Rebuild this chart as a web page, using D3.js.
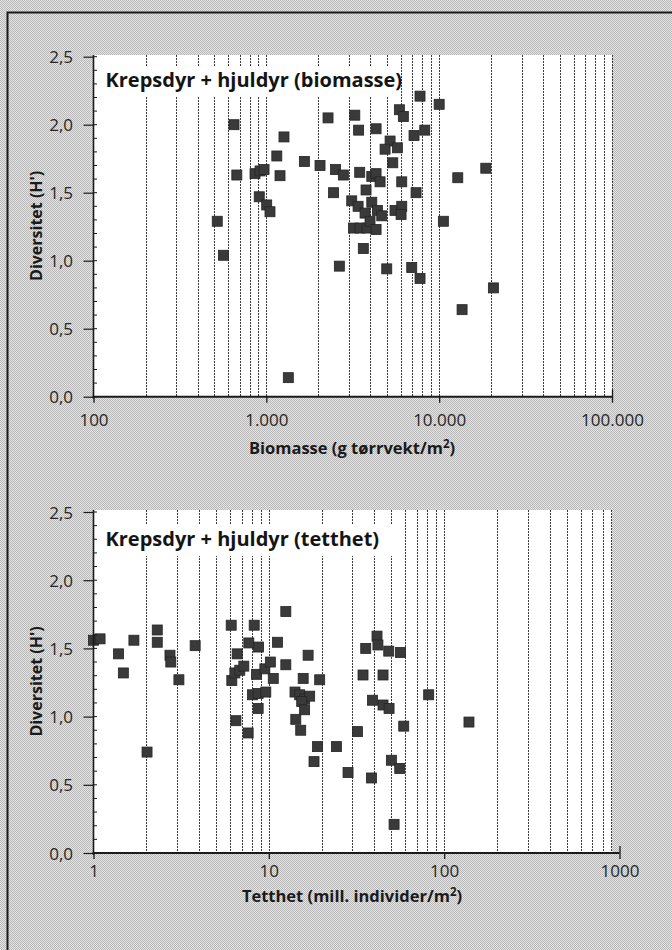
<!DOCTYPE html>
<html>
<head>
<meta charset="utf-8">
<script src="https://cdn.jsdelivr.net/npm/d3@7"></script>
<style>
  html, body { margin: 0; padding: 0; background: #cbcbcb; }
  svg { display: block; }
  text { font-family: "Open Sans", "Noto Sans", sans-serif; }
</style>
</head>
<body>
<svg id="chart" width="672" height="950"></svg>
<script>
// Diversity (Shannon H') against biomass and density of crustaceans + rotifers

// Panel 1: biomass (g dry weight / m2) and diversity
const biomasse = [
  650, 1265, 1150, 1660, 2045, 2275, 3250, 3420, 675, 860,
  920, 970, 1200, 2515, 2790, 2450, 910, 1005, 1050, 520,
  3120, 3395, 3190, 3485, 3825, 3470, 4315, 5885, 6205, 7750,
  10000, 7155, 8255, 5200, 4865, 5730, 5390, 4075, 4315, 4550,
  6075, 7350, 3775, 4075, 3725, 4390, 4655, 3980, 5555, 6075,
  6020, 4315, 10575, 12815, 18610, 3640, 2645, 4975, 6940, 7750,
  20590, 13570, 565, 1340
];
const diversitetBiomasse = [
  2.00, 1.91, 1.77, 1.73, 1.70, 2.05, 2.07, 1.96, 1.63, 1.64,
  1.66, 1.67, 1.625, 1.67, 1.63, 1.50, 1.47, 1.41, 1.36, 1.29,
  1.44, 1.40, 1.24, 1.24, 1.24, 1.65, 1.97, 2.11, 2.06, 2.21,
  2.15, 1.92, 1.96, 1.88, 1.82, 1.83, 1.72, 1.62, 1.64, 1.58,
  1.58, 1.50, 1.52, 1.43, 1.35, 1.37, 1.33, 1.29, 1.37, 1.40,
  1.34, 1.23, 1.29, 1.61, 1.68, 1.09, 0.96, 0.94, 0.95, 0.87,
  0.80, 0.64, 1.04, 0.14
];

// Panel 2: density (mill. individuals / m2) and diversity
const tetthet = [
  1.00, 1.09, 1.39, 1.48, 1.70, 2.31, 2.31, 2.73, 2.76, 3.07,
  3.80, 6.10, 6.60, 6.15, 6.40, 6.83, 7.20, 7.69, 8.25, 8.74,
  8.51, 9.49, 10.2, 10.6, 11.2, 12.5, 12.5, 16.75, 15.7, 19.5,
  8.07, 8.69, 9.61, 8.69, 6.49, 7.62, 2.02, 14.1, 15.0, 16.0,
  17.1, 15.4, 16.0, 14.25, 15.2, 18.95, 24.3, 18.1, 28.3, 32.0,
  39.0, 44.8, 48.5, 58.8, 81.6, 138.5, 50.0, 55.8, 38.5, 51.8,
  35.7, 41.4, 41.9, 48.3, 56.3, 34.45, 44.8
];
const diversitetTetthet = [
  1.56, 1.57, 1.46, 1.32, 1.56, 1.635, 1.545, 1.45, 1.40, 1.27,
  1.52, 1.67, 1.46, 1.265, 1.32, 1.34, 1.37, 1.54, 1.67, 1.51,
  1.31, 1.35, 1.40, 1.28, 1.545, 1.77, 1.38, 1.45, 1.28, 1.27,
  1.16, 1.17, 1.18, 1.06, 0.97, 0.88, 0.74, 1.18, 1.16, 1.13,
  1.15, 1.11, 1.05, 0.98, 0.90, 0.78, 0.78, 0.67, 0.59, 0.89,
  1.12, 1.085, 1.06, 0.93, 1.16, 0.96, 0.68, 0.62, 0.55, 0.21,
  1.50, 1.59, 1.525, 1.48, 1.47, 1.305, 1.305
];

// Axis ticks and labels
const yTicks = [0, 0.5, 1.0, 1.5, 2.0, 2.5];
const yTickLabels = ["0,0", "0,5", "1,0", "1,5", "2,0", "2,5"];
const yMinorTicks = d3.range(0, 2.51, 0.1);
const biomasseTicks = [100, 1000, 10000, 100000];
const biomasseTickLabels = ["100", "1.000", "10.000", "100.000"];
const tetthetTicks = [1, 10, 100, 1000];
const tetthetTickLabels = ["1", "10", "100", "1000"];

const svg = d3.select("#chart");
const defs = svg.append("defs");

// halftone-like grey screen for the page background
const pat = defs.append("pattern")
  .attr("id", "screen").attr("width", 2).attr("height", 2)
  .attr("patternUnits", "userSpaceOnUse");
pat.append("rect").attr("width", 2).attr("height", 2).attr("fill", "#e6e6e6");
pat.append("rect").attr("x", 0).attr("y", 0).attr("width", 1).attr("height", 1).attr("fill", "#b6b6b6");
pat.append("rect").attr("x", 1).attr("y", 1).attr("width", 1).attr("height", 1).attr("fill", "#b6b6b6");

svg.append("rect").attr("width", 672).attr("height", 950).attr("fill", "url(#screen)");
// frame around the figure
svg.append("path")
  .attr("d", "M7.5,960 L7.5,12.5 L680,12.5")
  .attr("fill", "none").attr("stroke", "#1a1a1a").attr("stroke-width", 2);

function panel(opts) {
  const g = svg.append("g");
  const x = d3.scaleLog().domain(opts.xDomain).range(opts.xRange);
  const y = d3.scaleLinear().domain([0, 2.5]).range(opts.yRange);
  const x0 = opts.xRange[0];
  const y0 = opts.yRange[0];
  const plotRight = opts.plotRight;
  const plotTop = opts.plotTop;

  // white plotting area
  g.append("rect")
    .attr("x", x0).attr("y", plotTop)
    .attr("width", plotRight - x0).attr("height", y0 - plotTop)
    .attr("fill", "#ffffff");

  // logarithmic grid lines (2..10 within each decade)
  const grid = [];
  const dLo = Math.round(Math.log10(opts.xDomain[0]));
  const dHi = Math.round(Math.log10(opts.xDomain[1]));
  for (let d = dLo; d < dHi; d++) {
    for (let k = 2; k <= 10; k++) {
      const v = k * Math.pow(10, d);
      if (x(v) <= plotRight + 0.5) grid.push(v);
    }
  }
  g.append("g").selectAll("line").data(grid).join("line")
    .attr("x1", d => Math.round(x(d)) + 0.5).attr("x2", d => Math.round(x(d)) + 0.5)
    .attr("y1", plotTop).attr("y2", y0)
    .attr("stroke", "#3a3a3a").attr("stroke-width", 1)
    .attr("stroke-dasharray", "2,1");

  // title on a white label that hides the grid behind it
  g.append("rect")
    .attr("x", x0 + 3).attr("y", opts.titleBaseline - 21)
    .attr("width", 398 - x0 - 3).attr("height", 31)
    .attr("fill", "#ffffff");
  g.append("text")
    .attr("x", x0 + 12).attr("y", opts.titleBaseline)
    .attr("font-size", 20).attr("font-weight", 700).attr("fill", "#141414")
    .text(opts.title);

  // data points
  g.append("g").selectAll("rect").data(opts.xs.map((v, i) => [v, opts.ys[i]])).join("rect")
    .attr("x", d => x(d[0]) - 5).attr("y", d => y(d[1]) - 5)
    .attr("width", 10).attr("height", 10)
    .attr("fill", "#3a3a3a").attr("stroke", "#242424").attr("stroke-width", 0.8);

  // y axis
  const ya = g.append("g").attr("transform", `translate(${x0},0)`)
    .call(d3.axisLeft(y).tickValues(yTicks)
      .tickFormat((d, i) => yTickLabels[i]).tickSize(10).tickPadding(10.5));
  ya.select(".domain").attr("d", `M0,${plotTop}V${y0 + 2}`)
    .attr("stroke", "#1a1a1a").attr("stroke-width", 1.6);
  ya.selectAll(".tick line").attr("stroke", "#1a1a1a").attr("stroke-width", 1.2);
  ya.selectAll(".tick text").attr("font-size", 17).attr("fill", "#262626")
    .attr("font-family", "'Open Sans', sans-serif").attr("dy", "0.36em");
  g.append("g").selectAll("line").data(yMinorTicks).join("line")
    .attr("x1", x0).attr("x2", x0 + 3.5)
    .attr("y1", d => y(d)).attr("y2", d => y(d))
    .attr("stroke", "#1a1a1a").attr("stroke-width", 1);

  // x axis
  const xa = g.append("g").attr("transform", `translate(0,${y0})`)
    .call(d3.axisBottom(x).tickValues(opts.xTicks)
      .tickFormat((d, i) => opts.xTickLabels[i]).tickSize(6).tickPadding(opts.xLabelGap));
  xa.select(".domain").attr("d", `M${x0 - 1},0H${opts.xRange[1]}`)
    .attr("stroke", "#1a1a1a").attr("stroke-width", 2);
  xa.selectAll(".tick line").attr("stroke", "#1a1a1a").attr("stroke-width", 1.3)
    .attr("y1", (d, i) => i === opts.xTicks.length - 1 ? -7 : 0);
  xa.selectAll(".tick text").attr("font-size", 17).attr("fill", "#262626")
    .attr("font-family", "'Open Sans', sans-serif");

  // axis titles
  const xt = g.append("text")
    .attr("x", 352).attr("y", opts.xTitleBaseline)
    .attr("text-anchor", "middle")
    .attr("font-size", 16.5).attr("font-weight", 700).attr("fill", "#1a1a1a");
  xt.append("tspan").text(opts.xTitle);
  xt.append("tspan").attr("dy", -6).attr("font-size", 11.5).text("2");
  xt.append("tspan").attr("dy", 6).text(")");

  g.append("text")
    .attr("transform", `translate(42,${(y0 + plotTop) / 2}) rotate(-90)`)
    .attr("text-anchor", "middle")
    .attr("font-size", 16).attr("font-weight", 700).attr("fill", "#1a1a1a")
    .text("Diversitet (H')");
}

panel({
  xDomain: [100, 100000], xRange: [93.5, 612], yRange: [396.7, 56.7],
  plotRight: 612, plotTop: 55,
  title: "Krepsdyr + hjuldyr (biomasse)", titleBaseline: 87,
  xs: biomasse, ys: diversitetBiomasse,
  xTicks: biomasseTicks, xTickLabels: biomasseTickLabels, xLabelGap: 11,
  xTitle: "Biomasse (g tørrvekt/m", xTitleBaseline: 454
});

panel({
  xDomain: [1, 1000], xRange: [93.5, 619.5], yRange: [853, 512],
  plotRight: 612, plotTop: 510,
  title: "Krepsdyr + hjuldyr (tetthet)", titleBaseline: 546,
  xs: tetthet, ys: diversitetTetthet,
  xTicks: tetthetTicks, xTickLabels: tetthetTickLabels, xLabelGap: 6,
  xTitle: "Tetthet (mill. individer/m", xTitleBaseline: 902
});
</script>
</body>
</html>
